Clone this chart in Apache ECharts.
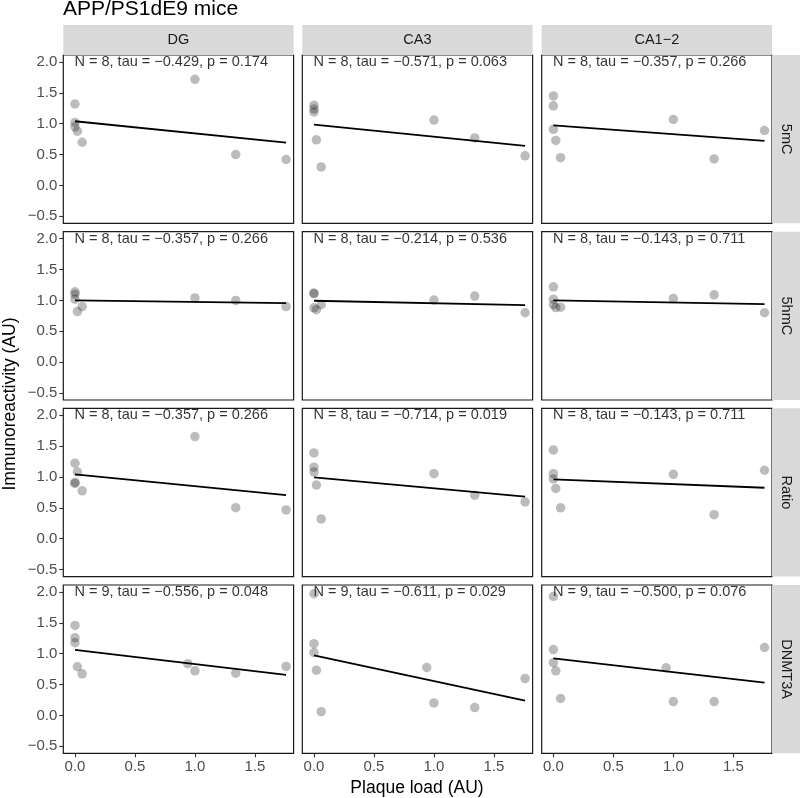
<!DOCTYPE html>
<html><head><meta charset="utf-8">
<script src="https://cdn.jsdelivr.net/npm/echarts@6/dist/echarts.min.js"></script>
<style>html,body{margin:0;padding:0;background:#fff}#c{width:800px;height:798px}</style>
</head><body><div id="c"></div>
<script>
// ---- data ----
const regions = ['DG', 'CA3', 'CA1−2'];
const markers = ['5mC', '5hmC', 'Ratio', 'DNMT3A'];
const xTicks = [0, 0.5, 1.0, 1.5];
const yTicks = [-0.5, 0, 0.5, 1.0, 1.5, 2.0];

const plaque8 = [0.00, 0.00, 0.00, 0.02, 0.06, 1.00, 1.34, 1.76];
const plaque9 = [0.00, 0.00, 0.00, 0.02, 0.06, 0.94, 1.00, 1.34, 1.76];

// immunoreactivity per panel
const mC_DG   = [1.32, 0.95, 1.02, 0.88, 0.70, 1.72, 0.50, 0.42];
const mC_CA3  = [1.30, 1.24, 1.19, 0.74, 0.30, 1.06, 0.77, 0.48];
const mC_CA12 = [1.45, 1.29, 0.91, 0.73, 0.45, 1.07, 0.43, 0.89];
const hmC_DG   = [1.14, 1.10, 1.02, 0.82, 0.90, 1.04, 1.00, 0.90];
const hmC_CA3  = [1.12, 1.11, 0.88, 0.85, 0.93, 1.005, 1.07, 0.80];
const hmC_CA12 = [1.22, 1.02, 0.93, 0.885, 0.89, 1.03, 1.09, 0.80];
const ratio_DG   = [1.225, 0.913, 0.897, 1.082, 0.777, 1.656, 0.503, 0.466];
const ratio_CA3  = [1.39, 1.16, 1.08, 0.87, 0.32, 1.055, 0.705, 0.597];
const ratio_CA12 = [1.44, 1.055, 0.97, 0.815, 0.50, 1.044, 0.39, 1.11];
const dnmt_DG   = [1.458, 1.26, 1.178, 0.789, 0.674, 0.838, 0.723, 0.685, 0.794];
const dnmt_CA3  = [1.972, 1.162, 1.019, 0.734, 0.061, 0.777, 0.202, 0.127, 0.597];
const dnmt_CA12 = [1.928, 1.068, 0.855, 0.723, 0.274, 0.772, 0.225, 0.225, 1.101];

// fitted line values at min and max plaque load
const fit_mC    = [[1.040, 0.695], [0.984, 0.640], [0.974, 0.721]];
const fit_hmC   = [[1.000, 0.956], [0.995, 0.923], [1.000, 0.940]];
const fit_ratio = [[1.044, 0.705], [0.995, 0.684], [0.962, 0.826]];
const fit_dnmt  = [[1.063, 0.657], [0.975, 0.241], [0.925, 0.531]];

const stats_mC    = ['N = 8, tau = −0.429, p = 0.174', 'N = 8, tau = −0.571, p = 0.063', 'N = 8, tau = −0.357, p = 0.266'];
const stats_hmC   = ['N = 8, tau = −0.357, p = 0.266', 'N = 8, tau = −0.214, p = 0.536', 'N = 8, tau = −0.143, p = 0.711'];
const stats_ratio = ['N = 8, tau = −0.357, p = 0.266', 'N = 8, tau = −0.714, p = 0.019', 'N = 8, tau = −0.143, p = 0.711'];
const stats_dnmt  = ['N = 9, tau = −0.556, p = 0.048', 'N = 9, tau = −0.611, p = 0.029', 'N = 9, tau = −0.500, p = 0.076'];

const rowsData = [
  { x: plaque8, ys: [mC_DG, mC_CA3, mC_CA12], fit: fit_mC, stats: stats_mC },
  { x: plaque8, ys: [hmC_DG, hmC_CA3, hmC_CA12], fit: fit_hmC, stats: stats_hmC },
  { x: plaque8, ys: [ratio_DG, ratio_CA3, ratio_CA12], fit: fit_ratio, stats: stats_ratio },
  { x: plaque9, ys: [dnmt_DG, dnmt_CA3, dnmt_CA12], fit: fit_dnmt, stats: stats_dnmt }
];

// ---- layout ----
const FONT = "'Liberation Sans', Arial, sans-serif";
const colLeft = [63.3, 302.3, 541.7];
const panelW = 230.3;
const rowTop = [55, 231.7, 408.3, 585];
const panelH = 168.3;
const X_MIN = -0.0975, X_MAX = 1.8225;
const Y_MIN = -0.614, Y_MAX = 2.114;

const fmt = v => (v < 0 ? '−' : '') + Math.abs(v).toFixed(1);

const grid = [], xAxis = [], yAxis = [], series = [], graphic = [];
let idx = 0;
rowsData.forEach((row, r) => {
  regions.forEach((reg, c) => {
    grid.push({
      left: colLeft[c], top: rowTop[r], width: panelW, height: panelH,
      show: true, borderColor: '#1a1a1a', borderWidth: 1.2, backgroundColor: 'transparent'
    });
    const showX = r === rowsData.length - 1;
    const showY = c === 0;
    xAxis.push({
      gridIndex: idx, type: 'value', min: X_MIN, max: X_MAX, position: 'bottom',
      axisLine: { show: false, onZero: false }, splitLine: { show: false },
      axisTick: { show: showX, length: 4, lineStyle: { color: '#333', width: 1.1 }, customValues: xTicks },
      axisLabel: { show: showX, customValues: xTicks, formatter: fmt, color: '#4d4d4d', fontSize: 15, fontFamily: FONT, margin: 6 }
    });
    yAxis.push({
      gridIndex: idx, type: 'value', min: Y_MIN, max: Y_MAX, position: 'left',
      axisLine: { show: false, onZero: false }, splitLine: { show: false },
      axisTick: { show: showY, length: 4, lineStyle: { color: '#333', width: 1.1 }, customValues: yTicks },
      axisLabel: { show: showY, customValues: yTicks, formatter: fmt, color: '#4d4d4d', fontSize: 15, fontFamily: FONT, margin: 6 }
    });
    const xs = row.x, ys = row.ys[c];
    series.push({
      type: 'scatter', xAxisIndex: idx, yAxisIndex: idx,
      data: xs.map((x, i) => [x, ys[i]]),
      symbolSize: 9.5, itemStyle: { color: 'rgba(0,0,0,0.33)' }, z: 2, silent: true
    });
    const xmin = Math.min(...xs), xmax = Math.max(...xs);
    series.push({
      type: 'line', xAxisIndex: idx, yAxisIndex: idx,
      data: [[xmin, row.fit[c][0]], [xmax, row.fit[c][1]]],
      symbol: 'none', lineStyle: { color: '#000', width: 1.8 }, z: 3, silent: true
    });
    series.push({
      type: 'scatter', xAxisIndex: idx, yAxisIndex: idx,
      data: [[xmin, 2.0]], symbolSize: 1, itemStyle: { color: 'transparent' }, z: 4, silent: true,
      label: { show: true, position: 'right', distance: -1, formatter: row.stats[c], color: '#000',
               fontSize: 14.5, fontFamily: FONT }
    });
    idx++;
  });
});

// strips
regions.forEach((reg, c) => {
  graphic.push({ type: 'rect', shape: { x: colLeft[c], y: 25, width: panelW, height: 30 }, style: { fill: '#d9d9d9' } });
  graphic.push({ type: 'text', x: colLeft[c] + panelW / 2, y: 40,
    style: { text: reg, fill: '#1a1a1a', font: `14.5px ${FONT}`, align: 'center', verticalAlign: 'middle' } });
});
markers.forEach((m, r) => {
  graphic.push({ type: 'rect', shape: { x: 772, y: rowTop[r], width: 28, height: panelH }, style: { fill: '#d9d9d9' } });
  graphic.push({ type: 'text', x: 786, y: rowTop[r] + panelH / 2, rotation: -Math.PI / 2,
    style: { text: m, fill: '#1a1a1a', font: `14.5px ${FONT}`, align: 'center', verticalAlign: 'middle' } });
});
graphic.push({ type: 'text', x: 10, y: 404, rotation: Math.PI / 2,
  style: { text: 'Immunoreactivity (AU)', fill: '#000', font: `17.5px ${FONT}`, align: 'center', verticalAlign: 'middle' } });
graphic.push({ type: 'text', x: 417, y: 788,
  style: { text: 'Plaque load (AU)', fill: '#000', font: `17.5px ${FONT}`, align: 'center', verticalAlign: 'middle' } });
graphic.push({ type: 'text', x: 63, y: 9,
  style: { text: 'APP/PS1dE9 mice', fill: '#000', font: `21px ${FONT}`, align: 'left', verticalAlign: 'middle' } });

const chart = echarts.init(document.getElementById('c'), null, { renderer: 'canvas' });
chart.setOption({ animation: false, backgroundColor: '#fff', grid, xAxis, yAxis, series, graphic });
</script></body></html>
